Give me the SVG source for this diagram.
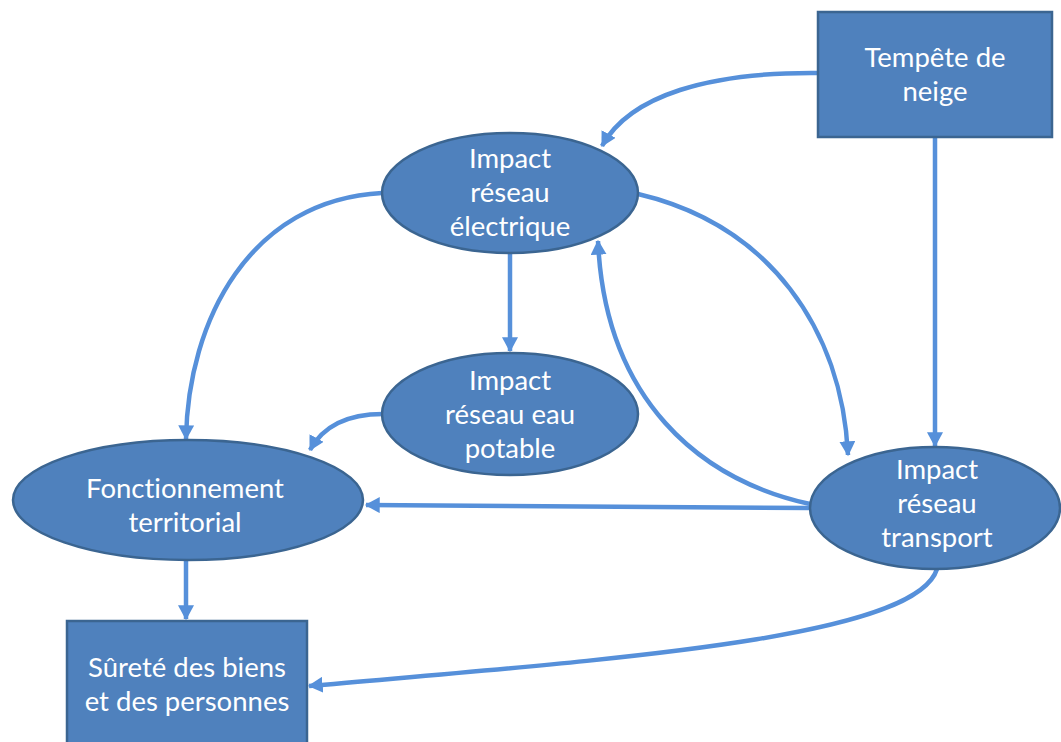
<svg xmlns="http://www.w3.org/2000/svg" width="1061" height="742" viewBox="0 0 1061 742">
<style>
.node{fill:#4F81BD;stroke:#3B6591;stroke-width:2.5}
.lbl{font-family:Lato,"Open Sans","Liberation Sans",sans-serif;font-size:27.5px;fill:#ffffff;text-anchor:middle;font-variant-ligatures:none}
.c{fill:none;stroke:#5690DA;stroke-width:4.5;marker-end:url(#ah)}
</style>
<defs>
<marker id="ah" markerUnits="userSpaceOnUse" markerWidth="16" markerHeight="16" refX="12" refY="7" orient="auto" viewBox="0 0 14 14">
<path d="M0,0 L13,7 L0,14 Z" fill="#5690DA"/>
</marker>
</defs>
<rect width="1061" height="742" fill="#ffffff"/>
<g id="connectors">
<path class="c" d="M818,73 C710,72 630,95 602,146"/>
<path class="c" d="M935,138 L935,446"/>
<path class="c" d="M382,193 C250,200 188,320 186,439"/>
<path class="c" d="M510,254 L510,351"/>
<path class="c" d="M638,194 C770,225 842,330 848,455"/>
<path class="c" d="M810,504 C700,480 605,400 598,241"/>
<path class="c" d="M383,414 C345,414 322,428 310,450"/>
<path class="c" d="M810,508 L366,505"/>
<path class="c" d="M186,561 L186,619"/>
<path class="c" d="M937,569 C915,640 600,660 309,686"/>
</g>
<g id="tempete">
<rect class="node" x="818" y="12" width="234" height="125"/>
<text class="lbl" x="935" y="67">Tempête de</text>
<text class="lbl" x="935" y="101">neige</text>
</g>
<g id="electrique">
<ellipse class="node" cx="510" cy="193" rx="128" ry="60"/>
<text class="lbl" x="510" y="168">Impact</text>
<text class="lbl" x="510" y="202">réseau</text>
<text class="lbl" x="510" y="236">électrique</text>
</g>
<g id="eau">
<ellipse class="node" cx="510" cy="414" rx="128" ry="61"/>
<text class="lbl" x="510" y="390">Impact</text>
<text class="lbl" x="510" y="424">réseau eau</text>
<text class="lbl" x="510" y="458">potable</text>
</g>
<g id="fonctionnement">
<ellipse class="node" cx="188" cy="500" rx="175" ry="60"/>
<text class="lbl" x="185" y="498">Fonctionnement</text>
<text class="lbl" x="185" y="532">territorial</text>
</g>
<g id="transport">
<ellipse class="node" cx="935" cy="508" rx="125" ry="61"/>
<text class="lbl" x="937" y="479">Impact</text>
<text class="lbl" x="937" y="513">réseau</text>
<text class="lbl" x="937" y="547">transport</text>
</g>
<g id="surete">
<rect class="node" x="67" y="621" width="240" height="130"/>
<text class="lbl" x="187" y="677">Sûreté des biens</text>
<text class="lbl" x="187" y="711">et des personnes</text>
</g>
</svg>
